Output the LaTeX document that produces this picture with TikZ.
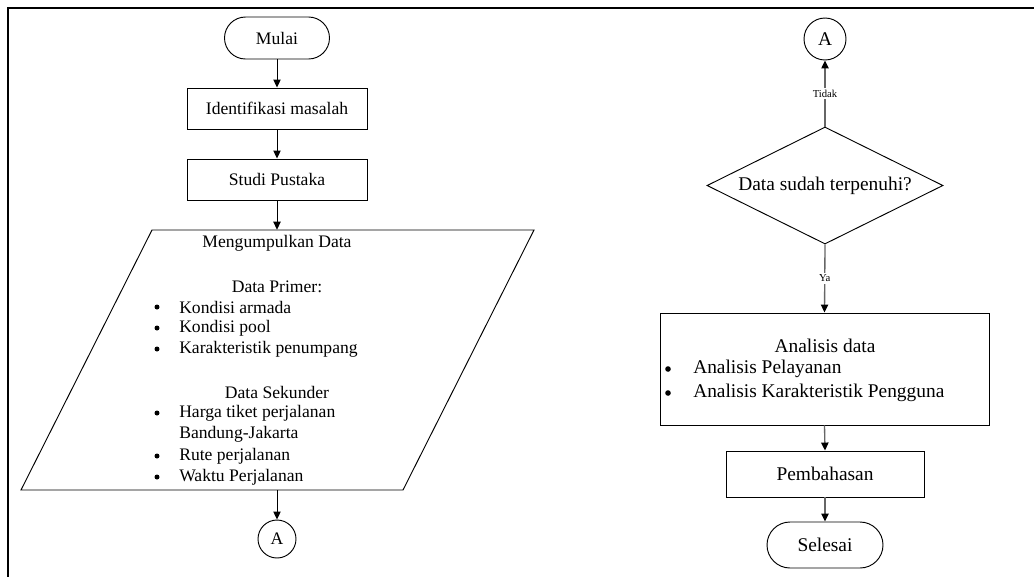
\documentclass[tikz,border=0pt]{standalone}
\usepackage{fontspec}
\setmainfont{Liberation Serif}
\usetikzlibrary{shapes.geometric,arrows.meta}
\begin{document}
\begin{tikzpicture}[x=0.75pt,y=-0.75pt,
  lfont/.style={font=\fontsize{13.2}{15}\selectfont},
  rfont/.style={font=\fontsize{14.55}{17}\selectfont},
  box/.style={draw, line width=0.7pt, rectangle, inner sep=0pt},
  term/.style={box, rounded corners=17pt},
  conn/.style={draw, line width=0.7pt, circle, inner sep=0pt},
  txt/.style={inner sep=0pt},
  arrL/.style={draw, line width=0.7pt, -{Triangle[length=6pt,width=5.5pt]}},
  arrR/.style={draw=black!60, line width=1pt, -{Triangle[length=6pt,width=5.5pt,fill=black,color=black]}},
  lab/.style={fill=white, inner sep=1.5pt, font=\fontsize{8}{9}\selectfont},
  dot/.style={fill=black}
]
\useasboundingbox (0,0) rectangle (1034,576);
\draw[line width=1.8pt] (8,580) -- (8,8) -- (1040,8);

% left column
\node[term, lfont, minimum width=78.75pt, minimum height=31.5pt, rounded corners=15.75pt] (mulai) at (277,38) {Mulai};
\node[box, lfont, minimum width=135pt, minimum height=30.75pt] (ident) at (277,108.5) {Identifikasi masalah};
\node[box, lfont, minimum width=135pt, minimum height=30.75pt] (studi) at (277,179.5) {Studi Pustaka};
\node[inner sep=0pt, minimum width=1pt, minimum height=195pt] (data) at (277,360) {};
\draw[line width=0.7pt] (152,230) -- (534,230) -- (403,490) -- (21,490) -- cycle;
\node[txt, lfont] (t1) at (277,243) {Mengumpulkan Data};
\node[txt, lfont] (t2) at (277,287) {Data Primer:};
\node[txt, lfont, anchor=west] (t3) at (179,307) {Kondisi armada};
\node[txt, lfont, anchor=west] (t4) at (179,328) {Kondisi pool};
\node[txt, lfont, anchor=west] (t5) at (179,349) {Karakteristik penumpang};
\node[txt, lfont] (t6) at (277,392) {Data Sekunder};
\node[txt, lfont, anchor=west] (t7) at (179,413) {Harga tiket perjalanan};
\node[txt, lfont, anchor=west] (t8) at (179,434) {Bandung-Jakarta};
\node[txt, lfont, anchor=west] (t9) at (179,456) {Rute perjalanan};
\node[txt, lfont, anchor=west] (t10) at (179,477) {Waktu Perjalanan};
\foreach \yy in {307,328,349,413,456,477} \fill (157,\yy) circle (2.5);
\node[conn, lfont, minimum size=28.5pt] (aL) at (277,539) {A};

\draw[arrL] (mulai) -- (ident);
\draw[arrL] (ident) -- (studi);
\draw[arrL] (studi) -- (data.north);
\draw[arrL] (data.south) -- (aL);

% right column
\node[conn, rfont, minimum size=31.5pt] (aR) at (825,39) {A};
\node[draw, line width=0.7pt, diamond, aspect=2, inner sep=0pt, minimum width=177pt, minimum height=87.75pt, rfont] (dec) at (825,185.5) {Data sudah terpenuhi?};
\node[box, minimum width=246.75pt, minimum height=84pt] (anal) at (824.5,369) {};
\node[txt, rfont] (a1) at (825,346) {Analisis data};
\node[txt, rfont, anchor=west] (a2) at (693,369) {Analisis Pelayanan};
\node[txt, rfont, anchor=west] (a3) at (693,393) {Analisis Karakteristik Pengguna};
\fill (668,369) circle (2.8);
\fill (668,393) circle (2.8);
\node[box, rfont, minimum width=148.5pt, minimum height=34.5pt] (bahas) at (825,474) {Pembahasan};
\node[term, rfont, minimum width=87pt, minimum height=34.5pt, rounded corners=17.25pt] (selesai) at (825,545) {Selesai};

\draw[arrR] (dec.north) -- node[lab, pos=0.5] {Tidak} (aR.south);
\draw[arrR] (dec.south) -- node[lab, pos=0.5] {Ya} (anal.north);
\draw[arrR] (anal.south) -- (bahas.north);
\draw[arrR] (bahas.south) -- (selesai.north);
\end{tikzpicture}
\end{document}
